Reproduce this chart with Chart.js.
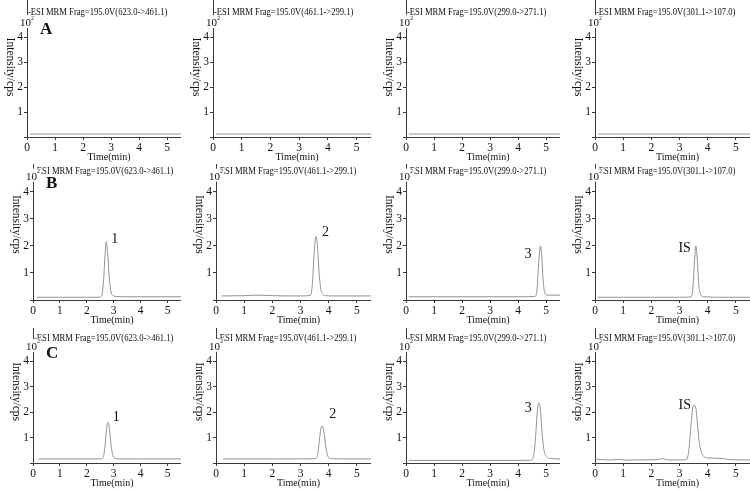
<!DOCTYPE html>
<html>
<head>
<meta charset="utf-8">
<script src="https://cdn.jsdelivr.net/npm/chart.js@4.4.0/dist/chart.umd.min.js"></script>
<style>
  html, body { margin: 0; padding: 0; background: #fff; }
  #wrap { position: relative; width: 750px; height: 489px; overflow: hidden; }
  #wrap canvas { position: absolute; }
</style>
</head>
<body>
<div id="wrap"></div>
<script>
// ---------- DATA ----------
const rowLetters = ["A", "B", "C"];
const transitions = [
  "-ESI MRM Frag=195.0V(623.0->461.1)",
  "-ESI MRM Frag=195.0V(461.1->299.1)",
  "-ESI MRM Frag=195.0V(299.0->271.1)",
  "-ESI MRM Frag=195.0V(301.1->107.0)",
];
const peakNames = ["1", "2", "3", "IS"];
const xTicks = [0, 1, 2, 3, 4, 5];
const yTicks = [0, 1, 2, 3, 4];

// row A: blank samples, flat baselines
const A1_t = [0.1, 5.5], A1_v = [0.12, 0.12];
const A2_t = [0.1, 5.5], A2_v = [0.12, 0.12];
const A3_t = [0.1, 5.5], A3_v = [0.12, 0.12];
const A4_t = [0.1, 5.5], A4_v = [0.12, 0.12];

// row B
const B1_t = [0.15, 1.0, 2.0, 2.45, 2.55, 2.62, 2.68, 2.72, 2.77, 2.83, 2.9, 3.0, 3.1, 3.5, 4.5, 5.5];
const B1_v = [0.10, 0.10, 0.10, 0.10, 0.15, 0.7, 1.7, 2.15, 1.8, 0.9, 0.3, 0.15, 0.13, 0.12, 0.12, 0.12];
const B2_t = [0.2, 1.0, 1.5, 2.0, 3.0, 3.35, 3.42, 3.48, 3.55, 3.6, 3.66, 3.72, 3.8, 3.9, 4.2, 5.5];
const B2_v = [0.15, 0.16, 0.18, 0.16, 0.15, 0.17, 0.6, 1.7, 2.35, 2.0, 1.0, 0.4, 0.2, 0.16, 0.15, 0.15];
const B3_t = [0.1, 2.0, 4.0, 4.6, 4.68, 4.74, 4.8, 4.85, 4.9, 4.96, 5.05, 5.5];
const B3_v = [0.12, 0.12, 0.12, 0.13, 0.4, 1.4, 2.0, 1.6, 0.7, 0.25, 0.18, 0.18];
const B4_t = [0.1, 1.0, 2.0, 3.0, 3.4, 3.47, 3.53, 3.58, 3.63, 3.68, 3.75, 3.85, 4.5, 5.5];
const B4_v = [0.1, 0.1, 0.1, 0.1, 0.11, 0.4, 1.4, 2.0, 1.5, 0.6, 0.2, 0.12, 0.1, 0.1];

// row C
const C1_t = [0.2, 1.0, 2.0, 2.5, 2.6, 2.67, 2.73, 2.78, 2.84, 2.9, 2.97, 3.05, 3.2, 4.0, 5.5];
const C1_v = [0.16, 0.16, 0.16, 0.16, 0.2, 0.6, 1.3, 1.6, 1.35, 0.7, 0.3, 0.18, 0.16, 0.16, 0.16];
const C2_t = [0.25, 1.0, 2.0, 3.0, 3.5, 3.6, 3.67, 3.72, 3.77, 3.83, 3.9, 3.98, 4.1, 4.5, 5.5];
const C2_v = [0.16, 0.16, 0.16, 0.16, 0.17, 0.3, 0.9, 1.35, 1.45, 1.2, 0.6, 0.25, 0.17, 0.16, 0.16];
const C3_t = [0.1, 2.0, 4.0, 4.45, 4.55, 4.62, 4.68, 4.74, 4.8, 4.86, 4.93, 5.02, 5.15, 5.5];
const C3_v = [0.1, 0.1, 0.1, 0.11, 0.25, 0.9, 1.9, 2.35, 2.1, 1.2, 0.5, 0.25, 0.18, 0.16];
const C4_t = [0.05, 0.5, 0.9, 1.1, 1.5, 2.2, 2.4, 2.6, 3.0, 3.25, 3.33, 3.4, 3.46, 3.51, 3.57, 3.63, 3.7, 3.8, 4.0, 4.5, 4.8, 5.5];
const C4_v = [0.15, 0.12, 0.14, 0.11, 0.12, 0.13, 0.17, 0.12, 0.12, 0.14, 0.5, 1.4, 2.1, 2.27, 2.2, 1.6, 0.8, 0.35, 0.2, 0.18, 0.13, 0.12];

const series = [
  [[A1_t, A1_v], [A2_t, A2_v], [A3_t, A3_v], [A4_t, A4_v]],
  [[B1_t, B1_v], [B2_t, B2_v], [B3_t, B3_v], [B4_t, B4_v]],
  [[C1_t, C1_v], [C2_t, C2_v], [C3_t, C3_v], [C4_t, C4_v]],
];

// ---------- LAYOUT (pixels) ----------
const YW = 30, XH = 30, PAD = 8;        // fixed axis box sizes, room above plot
const rowTop = [0, 164, 328];           // top of y axis line
const rowBase = [137, 300, 463];        // x axis line
const yMax = [5.48, 5.03, 5.3];
const textDrop = [12, 7, 10];           // transition text below plot top
const colAxis = [
  [27, 213, 406, 595],
  [33, 216, 406, 595],
  [33, 216, 406, 595],
];
const colRight = [181, 371, 560, 750];
// peak label: side (1 right / -1 left), dx, dy from apex
const labelPlace = [
  [1, 5, -3], [1, 6, -4], [-1, -9, 8], [-1, -5, 2],
];
const labelPlaceC = [
  [1, 5, -5], [1, 7, -12], [-1, -7, 5], [-1, -3, 0],
];

const SERIF = "'Liberation Serif', 'Times New Roman', serif";
const INK = "#111";
const AXIS = "#3a3a3a";

// ---------- TEXT PLUGIN ----------
const panelText = {
  id: "panelText",
  afterDraw(chart) {
    const o = chart.options.plugins.panelText;
    const { ctx, chartArea: a, scales: { x, y } } = chart;
    ctx.save();
    ctx.fillStyle = INK;
    ctx.textBaseline = "middle";

    // transition (narrow print face)
    ctx.save();
    ctx.translate(a.left + 1, a.top + o.drop);
    ctx.scale(0.86, 1);
    ctx.font = "10px " + SERIF;
    ctx.textAlign = "left";
    ctx.fillText(o.transition, 0, 0);
    ctx.restore();

    // 10^2 over the axis
    const ey = y.getPixelForValue(4.6);
    ctx.fillStyle = "#fff";
    ctx.fillRect(a.left - 7, ey - 7, 15, 13);
    ctx.fillStyle = INK;
    ctx.font = "11px " + SERIF;
    ctx.fillText("10", a.left - 7, ey + 1);
    ctx.font = "6px " + SERIF;
    ctx.fillText("2", a.left + 4, ey - 4);

    // row letter
    if (o.letter) {
      ctx.font = "bold 17px " + SERIF;
      ctx.fillText(o.letter, a.left + 13, y.getPixelForValue(4.3));
    }

    // y title
    ctx.save();
    ctx.translate(a.left - 17, y.getPixelForValue(2.8));
    ctx.rotate(Math.PI / 2);
    ctx.textAlign = "center";
    ctx.font = "11.5px " + SERIF;
    ctx.fillText("Intensity/cps", 0, 0);
    ctx.restore();

    // x title
    ctx.textAlign = "center";
    ctx.font = "10px " + SERIF;
    ctx.fillText("Time(min)", (a.left + a.right) / 2 + 5, a.bottom + 20);

    // peak label
    if (o.peak) {
      const d = chart.data.datasets[0].data;
      let m = d[0];
      d.forEach((p) => { if (p.y > m.y) m = p; });
      const px = x.getPixelForValue(m.x), py = y.getPixelForValue(m.y);
      const [side, dx, dy] = o.place;
      ctx.font = "14px " + SERIF;
      ctx.textAlign = side > 0 ? "left" : "right";
      ctx.fillText(o.peak, px + dx, py + dy);
    }
    ctx.restore();
  },
};

// ---------- PANELS ----------
const wrap = document.getElementById("wrap");

function makePanel(r, c) {
  const axisX = colAxis[r][c];
  const left = axisX - YW;
  const top = rowTop[r] - PAD;
  const w = colRight[c] - left;
  const h = rowBase[r] - top + XH;
  const canvas = document.createElement("canvas");
  canvas.width = w;
  canvas.height = h;
  canvas.style.left = left + "px";
  canvas.style.top = top + "px";
  canvas.style.width = w + "px";
  canvas.style.height = h + "px";
  wrap.appendChild(canvas);

  const [t, v] = series[r][c];
  new Chart(canvas, {
    type: "line",
    data: {
      datasets: [{
        data: t.map((tt, i) => ({ x: tt, y: v[i] })),
        borderColor: "#929292",
        borderWidth: 1,
        pointRadius: 0,
        cubicInterpolationMode: "monotone",
        fill: false,
      }],
    },
    options: {
      responsive: false,
      animation: false,
      devicePixelRatio: 1,
      layout: { padding: { top: PAD, left: 0, right: 0, bottom: 0 } },
      events: [],
      plugins: {
        legend: { display: false },
        tooltip: { enabled: false },
        panelText: {
          transition: transitions[c],
          drop: textDrop[r],
          letter: c === 0 ? rowLetters[r] : null,
          peak: r > 0 ? peakNames[c] : null,
          place: r === 2 ? labelPlaceC[c] : labelPlace[c],
        },
      },
      scales: {
        x: {
          type: "linear",
          min: 0,
          max: 5.5,
          afterBuildTicks: (s) => { s.ticks = xTicks.map((val) => ({ value: val })); },
          afterFit: (s) => { s.height = XH; s.paddingLeft = 0; s.paddingRight = 0; },
          ticks: {
            autoSkip: false, maxRotation: 0, padding: 1,
            color: INK, font: { family: SERIF, size: 11.5 },
          },
          grid: { drawOnChartArea: false, tickLength: 3, color: AXIS },
          border: { color: AXIS, width: 1 },
        },
        y: {
          type: "linear",
          min: 0,
          max: yMax[r],
          afterBuildTicks: (s) => { s.ticks = yTicks.map((val) => ({ value: val })); },
          afterFit: (s) => { s.width = YW; s.paddingTop = 0; s.paddingBottom = 0; },
          ticks: {
            autoSkip: false, padding: 1,
            color: INK, font: { family: SERIF, size: 11.5 },
            callback: (val) => (val === 0 ? "" : val),
          },
          grid: { drawOnChartArea: false, tickLength: 3, color: AXIS },
          border: { color: AXIS, width: 1 },
        },
      },
    },
    plugins: [panelText],
  });
}

for (let r = 0; r < 3; r++) {
  for (let c = 0; c < 4; c++) makePanel(r, c);
}
</script>
</body>
</html>
